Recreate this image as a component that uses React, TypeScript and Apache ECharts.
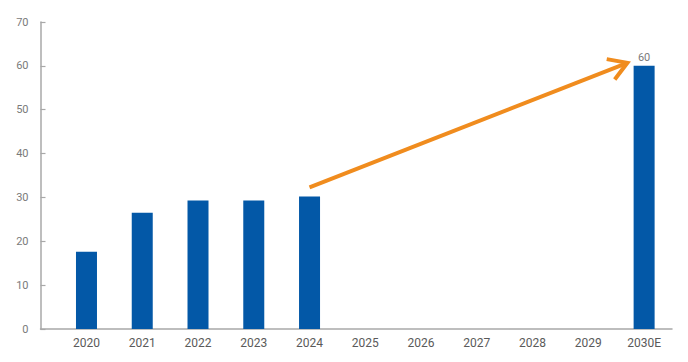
import React, { useEffect, useRef } from "react";
import * as echarts from "echarts";

const categories = ["2020", "2021", "2022", "2023", "2024", "2025", "2026", "2027", "2028", "2029", "2030E"];
const values = [17.6, 26.5, 29.3, 29.3, 30.2, null, null, null, null, null, 60];
const labelled = ["2030E"];
const yTicks = [0, 10, 20, 30, 40, 50, 60, 70];
const arrowFrom = [4.0, 32.3];
const arrowTo = [9.7, 60.7];

export default function App() {
  const ref = useRef<HTMLDivElement>(null);
  useEffect(() => {
    const chart = echarts.init(ref.current!, null, { renderer: "svg" });
    const yMin = yTicks[0];
    const yMax = yTicks[yTicks.length - 1];
    const font = "Roboto, 'DejaVu Sans', sans-serif";
    const coordAt = (api: any, idx: number, v: number) => {
      const i0 = Math.floor(idx);
      const f = idx - i0;
      const a = api.coord([i0, v]);
      if (f === 0) return a;
      const b = api.coord([i0 + 1, v]);
      return [a[0] + (b[0] - a[0]) * f, a[1]];
    };
    chart.setOption({
      animation: false,
      grid: [
        { left: 58.6, right: 16, top: 22, bottom: 33 },
        { left: 40.5, right: 16, top: 22, bottom: 33 },
      ],
      xAxis: [
        {
          type: "category",
          gridIndex: 0,
          data: categories,
          axisLine: { show: false },
          axisTick: { show: false },
          axisLabel: { color: "#5a5a5a", fontSize: 12, fontFamily: font, margin: 8 },
        },
        {
          type: "value",
          gridIndex: 1,
          min: 0,
          max: 1,
          axisLine: { show: true, lineStyle: { color: "#a8a8a8", width: 1.5 } },
          axisTick: { show: false },
          axisLabel: { show: false },
          splitLine: { show: false },
        },
      ],
      yAxis: [
        {
          type: "value",
          gridIndex: 0,
          min: yMin,
          max: yMax,
          interval: 10,
          show: false,
        },
        {
          type: "value",
          gridIndex: 1,
          min: yMin,
          max: yMax,
          interval: 10,
          axisLine: { show: true, lineStyle: { color: "#a8a8a8", width: 1.5 } },
          axisTick: { show: true, inside: true, length: 5, lineStyle: { color: "#a8a8a8", width: 1.2 } },
          axisLabel: { color: "#7a7a7a", fontSize: 11, fontFamily: font, margin: 12 },
          splitLine: { show: false },
        },
      ],
      series: [
        {
          type: "bar",
          xAxisIndex: 0,
          yAxisIndex: 0,
          data: values,
          barWidth: 21,
          itemStyle: { color: "#0358A7" },
          label: {
            show: true,
            position: "top",
            color: "#7a7a7a",
            fontSize: 11,
            fontFamily: font,
            distance: 3,
            formatter: (p: any) => (labelled.includes(p.name) ? String(Math.round(p.value)) : ""),
          },
        },
        {
          type: "custom",
          xAxisIndex: 0,
          yAxisIndex: 0,
          data: [[arrowFrom[0], arrowFrom[1], arrowTo[0], arrowTo[1]]],
          silent: true,
          z: 10,
          renderItem: (params: any, api: any) => {
            const p0 = coordAt(api, api.value(0), api.value(1));
            const p1 = coordAt(api, api.value(2), api.value(3));
            const dx = p1[0] - p0[0];
            const dy = p1[1] - p0[1];
            const ang = Math.atan2(dy, dx);
            const L = 21;
            const spread = 0.55;
            const w1 = [p1[0] - L * Math.cos(ang - spread), p1[1] - L * Math.sin(ang - spread)];
            const w2 = [p1[0] - L * Math.cos(ang + spread), p1[1] - L * Math.sin(ang + spread)];
            const style = { stroke: "#F08C1E", lineWidth: 4, fill: "none", lineCap: "butt", lineJoin: "miter" };
            return {
              type: "group",
              children: [
                { type: "line", shape: { x1: p0[0], y1: p0[1], x2: p1[0] - 2 * Math.cos(ang), y2: p1[1] - 2 * Math.sin(ang) }, style },
                { type: "polyline", shape: { points: [w1, p1, w2] }, style },
              ],
            };
          },
        },
      ],
    });
    return () => chart.dispose();
  }, []);
  return <div ref={ref} style={{ width: 688, height: 362, position: "absolute", left: 0, top: 0 }} />;
}
